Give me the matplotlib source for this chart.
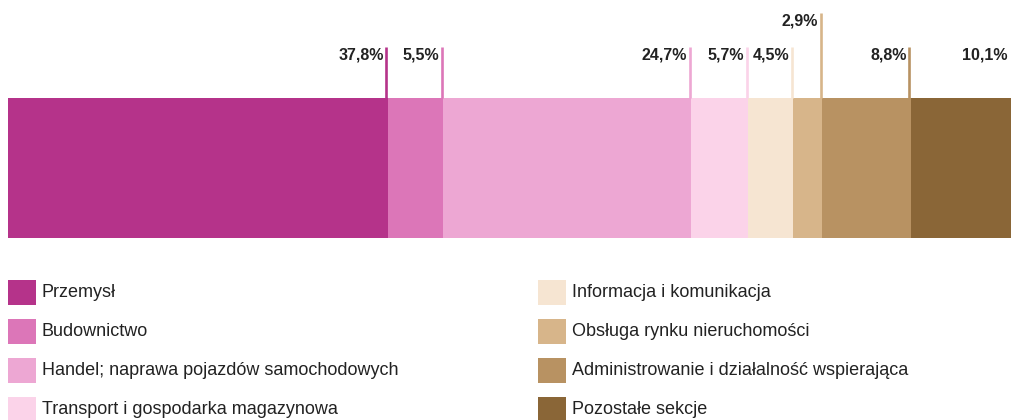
import matplotlib.pyplot as plt
import matplotlib.transforms as mtransforms
from matplotlib import font_manager
import numpy as np

plt.rcParams['font.family'] = ['Liberation Sans', 'DejaVu Sans']

# pogrubiona czcionka - wprost z pliku, żeby nie trafić na wersję "Narrow"
pliki = [f for f in font_manager.findSystemFonts() if f.endswith("LiberationSans-Bold.ttf")]
if pliki:
    pogr = font_manager.FontProperties(fname=pliki[0], size=11.5)
else:
    pogr = font_manager.FontProperties(family='Liberation Sans', weight='bold', size=11.5)

# dane
sekcje = ["Przemysł", "Budownictwo", "Handel; naprawa pojazdów samochodowych",
          "Transport i gospodarka magazynowa", "Informacja i komunikacja",
          "Obsługa rynku nieruchomości", "Administrowanie i działalność wspierająca",
          "Pozostałe sekcje"]
udzialy = [37.8, 5.5, 24.7, 5.7, 4.5, 2.9, 8.8, 10.1]
etykiety = ["37,8%", "5,5%", "24,7%", "5,7%", "4,5%", "2,9%", "8,8%", "10,1%"]
kolory = ["#B5338A", "#DC76B8", "#EDA7D3", "#FBD3E9",
          "#F6E5D2", "#D7B58A", "#B89262", "#8A6637"]

W, H = 1012, 420
fig = plt.figure(figsize=(W / 100, H / 100), dpi=100)

# pasek
ax = fig.add_axes([8 / W, (H - 238) / H, 1004 / W, 140 / H])
lewe = np.concatenate([[0], np.cumsum(udzialy)[:-1]])
ax.barh(0.5, udzialy, left=lewe, height=1, color=kolory, edgecolor='none')
ax.set_xlim(0, sum(udzialy))
ax.set_ylim(0, 1)
ax.axis('off')

# kreska przesunięta o ~1 px w lewo od granicy segmentu
przes = ax.get_xaxis_transform() + mtransforms.ScaledTranslation(-1.2 / 100, 0, fig.dpi_scale_trans)

for i, (l, w, lab, c) in enumerate(zip(lewe, udzialy, etykiety, kolory)):
    prawa = l + w
    wysoko = w < 4  # wąskie segmenty - etykieta wyżej
    top = 85 if wysoko else 51
    base = 72 if wysoko else 38
    if i < len(udzialy) - 1:
        ax.plot([prawa, prawa], [1, 1 + top / 140], color=c, lw=1.9,
                clip_on=False, solid_capstyle='butt', transform=przes)
    ax.annotate(lab, xy=(prawa, 1), xycoords=('data', 'axes fraction'),
                xytext=(-4, base), textcoords='offset pixels',
                ha='right', va='baseline', fontproperties=pogr,
                color='#222222')

# legenda
lg = fig.add_axes([0, 0, 1, 1])
lg.set_xlim(0, W)
lg.set_ylim(H, 0)
lg.axis('off')
for i, (nazwa, c) in enumerate(zip(sekcje, kolory)):
    kol, rz = divmod(i, 4)
    x = 8 if kol == 0 else 538
    yc = 292.5 + rz * 39
    lg.add_patch(plt.Rectangle((x, yc - 12.5), 28, 25, color=c, lw=0))
    lg.text(x + 34, yc, nazwa, fontsize=13, va='center', ha='left',
            color='#222222')

fig.savefig("out.png", dpi=100)
